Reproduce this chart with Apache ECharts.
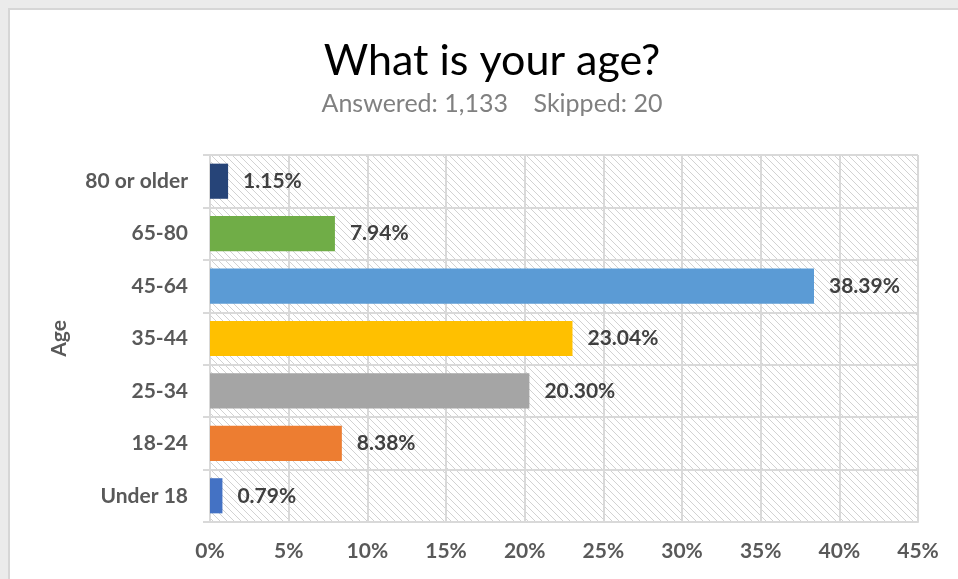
<!DOCTYPE html>
<html>
<head>
<meta charset="utf-8">
<script src="https://cdn.jsdelivr.net/npm/echarts@6/dist/echarts.min.js"></script>
<style>
html,body{margin:0;padding:0;width:958px;height:579px;overflow:hidden;background:#ebebeb;}
#frame{position:absolute;left:8px;top:8px;width:950px;height:571px;background:#fff;border-left:2px solid #d6d6d6;border-top:2px solid #d6d6d6;box-sizing:border-box;}
#chart{position:absolute;left:0;top:0;width:958px;height:579px;}
</style>
</head>
<body>
<div id="frame"></div>
<div id="chart"></div>
<script>
const categories = ['Under 18', '18-24', '25-34', '35-44', '45-64', '65-80', '80 or older'];
const values = [0.79, 8.38, 20.30, 23.04, 38.39, 7.94, 1.15];
const barColors = ['#4472C4', '#ED7D31', '#A5A5A5', '#FFC000', '#5B9BD5', '#70AD47', '#264478'];
const xTicks = [0, 5, 10, 15, 20, 25, 30, 35, 40, 45];

const FONT = 'Lato, "Open Sans", sans-serif';

const T = 7;
const tile = document.createElement('canvas');
tile.width = T; tile.height = T;
const tctx = tile.getContext('2d');
tctx.fillStyle = '#ffffff';
tctx.fillRect(0, 0, T, T);
tctx.fillStyle = '#d2d2d2';
for (let i = 0; i < T; i++) tctx.fillRect(i, i, 1, 1);

const chart = echarts.init(document.getElementById('chart'), null, {renderer: 'canvas'});
chart.setOption({
  backgroundColor: 'transparent',
  animation: false,
  title: {
    text: 'What is your age?',
    subtext: 'Answered: 1,133    Skipped: 20',
    left: 487, top: 35, textAlign: 'center',
    itemGap: 8,
    textStyle: {fontFamily: FONT, fontSize: 43, fontWeight: 'normal', color: '#000'},
    subtextStyle: {fontFamily: FONT, fontSize: 25, color: '#808080'}
  },
  grid: {
    left: 210, right: 40, top: 155, bottom: 57,
    show: true,
    backgroundColor: {image: tile, repeat: 'repeat'},
    borderWidth: 0
  },
  xAxis: {
    type: 'value', min: 0, max: 45, interval: 5,
    axisLine: {show: true, lineStyle: {color: '#d9d9d9', width: 2}},
    axisTick: {show: false},
    splitLine: {show: true, lineStyle: {color: '#d9d9d9', width: 2}},
    axisLabel: {
      formatter: v => xTicks.includes(v) ? v + '%' : '',
      fontFamily: FONT, fontSize: 21, fontWeight: 'bold', color: '#595959', margin: 19
    }
  },
  yAxis: {
    type: 'category', data: categories,
    name: 'Age', nameLocation: 'middle', nameGap: 140, nameRotate: 90,
    nameTextStyle: {fontFamily: FONT, fontSize: 21, fontWeight: 'bold', color: '#595959'},
    axisLine: {show: true, lineStyle: {color: '#d9d9d9', width: 2}},
    axisTick: {show: true, length: 7, lineStyle: {color: '#d9d9d9', width: 2}},
    splitLine: {show: true, lineStyle: {color: '#d9d9d9', width: 2}},
    axisLabel: {fontFamily: FONT, fontSize: 21, fontWeight: 'bold', color: '#595959', margin: 22}
  },
  series: [{
    type: 'bar',
    data: values.map((v, i) => ({value: v, itemStyle: {color: barColors[i]}})),
    barCategoryGap: '33%',
    label: {
      show: true, position: 'right', distance: 15,
      formatter: p => p.value.toFixed(2) + '%',
      fontFamily: FONT, fontSize: 21, fontWeight: 'bold', color: '#404040'
    }
  }]
});
</script>
</body>
</html>
